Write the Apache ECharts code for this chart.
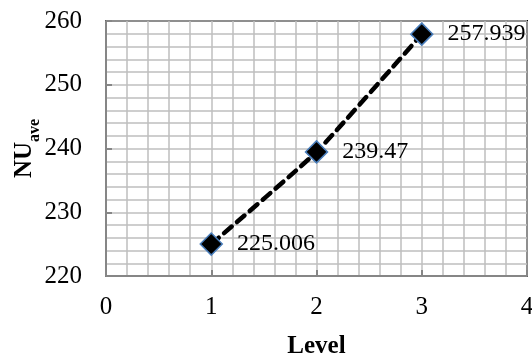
<!DOCTYPE html>
<html>
<head>
<meta charset="utf-8">
<script src="https://cdn.jsdelivr.net/npm/echarts@6/dist/echarts.min.js"></script>
<style>html,body{margin:0;padding:0;background:#fff}#c{width:532px;height:359px}</style>
</head>
<body>
<div id="c"></div>
<script>
const levels = [1, 2, 3];
const nuAve = [225.006, 239.47, 257.939];
const pointLabels = ['225.006', '239.47', '257.939'];
const xTicks = [0, 1, 2, 3, 4];
const yTicks = [220, 230, 240, 250, 260];

const FONT = '"Liberation Serif", "Times New Roman", serif';
const chart = echarts.init(document.getElementById('c'), null, {renderer: 'canvas'});
chart.setOption({
  animation: false,
  backgroundColor: '#fff',
  grid: {left: 106, right: 5, top: 21, bottom: 83, containLabel: false, outerBoundsMode: 'none',
         show: true, borderColor: '#000', borderWidth: 2, backgroundColor: 'transparent'},
  xAxis: {
    type: 'value', min: xTicks[0], max: xTicks[xTicks.length - 1], interval: 1,
    name: 'Level', nameLocation: 'middle', nameGap: 58, nameMoveOverlap: false,
    nameTextStyle: {fontFamily: FONT, fontSize: 25, fontWeight: 'bold', color: '#000'},
    axisLine: {show: true, lineStyle: {color: '#868686', width: 2}},
    axisTick: {show: true, inside: true, length: 6, lineStyle: {color: '#868686', width: 2}},
    axisLabel: {fontFamily: FONT, fontSize: 25, color: '#000', margin: 19, hideOverlap: false},
    splitLine: {show: true, lineStyle: {color: '#bfbfbf', width: 1.5}},
    minorTick: {show: false, splitNumber: 5},
    minorSplitLine: {show: true, lineStyle: {color: '#bfbfbf', width: 1.5}}
  },
  yAxis: {
    type: 'value', min: yTicks[0], max: yTicks[yTicks.length - 1], interval: 10,
    name: '{a|NU}{b|ave}', nameLocation: 'middle', nameGap: 69, nameMoveOverlap: false,
    nameTextStyle: {
      fontFamily: FONT, color: '#000',
      rich: {
        a: {fontFamily: FONT, fontSize: 25, fontWeight: 'bold', color: '#000', verticalAlign: 'bottom'},
        b: {fontFamily: FONT, fontSize: 16, fontWeight: 'bold', color: '#000', verticalAlign: 'bottom', padding: [0, 0, -6, 0]}
      }
    },
    axisLine: {show: true, lineStyle: {color: '#868686', width: 2}},
    axisTick: {show: true, inside: true, length: 6, lineStyle: {color: '#868686', width: 2}},
    axisLabel: {fontFamily: FONT, fontSize: 25, color: '#000', margin: 24},
    splitLine: {show: true, lineStyle: {color: '#bfbfbf', width: 1.5}},
    minorTick: {show: false, splitNumber: 5},
    minorSplitLine: {show: true, lineStyle: {color: '#bfbfbf', width: 1.5}}
  },
  series: [{
    type: 'line',
    data: levels.map((x, i) => [x, nuAve[i]]),
    smooth: 0.15,
    symbol: 'diamond',
    symbolSize: 22,
    itemStyle: {color: '#000', borderColor: '#4a7ebb', borderWidth: 1.5},
    lineStyle: {color: '#000', width: 4.5, type: [10, 7], cap: 'round'},
    label: {
      show: true, position: 'right', distance: 14,
      fontFamily: FONT, fontSize: 24, color: '#000',
      formatter: p => pointLabels[p.dataIndex]
    },
    z: 5
  }]
});
</script>
</body>
</html>
